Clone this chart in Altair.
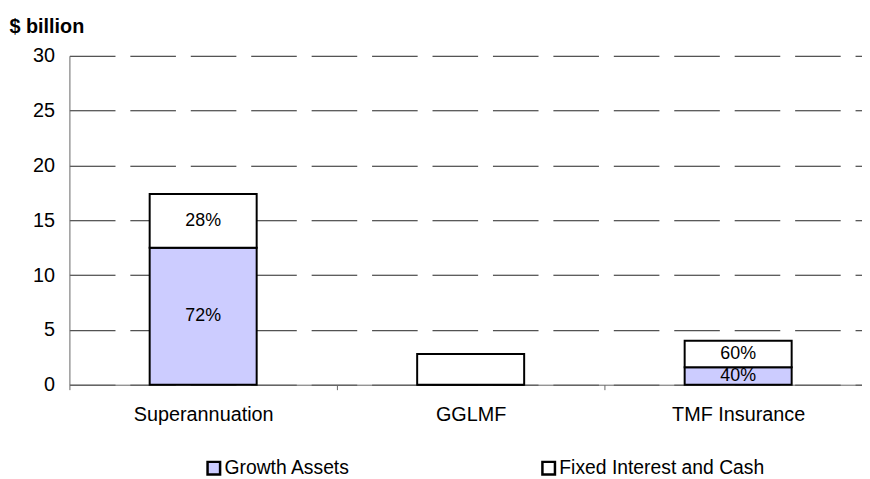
import altair as alt
import pandas as pd

categories = ["Superannuation", "GGLMF", "TMF Insurance"]
series = ["Growth Assets", "Fixed Interest and Cash"]
growth = [12.5, 0.0, 1.6]
fixed = [4.9, 2.8, 2.4]
growth_labels = ["72%", "", "40%"]
fixed_labels = ["28%", "", "60%"]
y_ticks = [0, 5, 10, 15, 20, 25, 30]
colors = ["#CCCCFF", "#FFFFFF"]

rows = []
for i, c in enumerate(categories):
    rows.append({"category": c, "series": series[0], "value": growth[i], "label": growth_labels[i], "ord": 0})
    rows.append({"category": c, "series": series[1], "value": fixed[i], "label": fixed_labels[i], "ord": 1})
df = pd.DataFrame(rows)

FONT = "Liberation Sans"

xscale = alt.Scale(range=[0, 810], paddingInner=0, paddingOuter=0)
xaxis = alt.Axis(title=None, labelAngle=0, tickBand="extent", tickSize=5, tickColor="#666666",
                 domainColor="#666666", labelFontSize=20, labelPadding=15, labelColor="black", grid=False)
yscale = alt.Scale(domain=[0, 30])
yaxis = alt.Axis(values=y_ticks, title="$ billion", titleAngle=0, titleAlign="left",
                 titleBaseline="middle", titleX=-61, titleY=-30, titleFontSize=20,
                 titleFontWeight="bold", titleColor="black", labelFontSize=20, labelPadding=15,
                 labelColor="black", ticks=False, grid=True, gridDash=[46, 15],
                 gridColor="#222222", gridWidth=1, domainColor="#666666")

base = alt.Chart(df)

bars = base.mark_bar(stroke="black", strokeWidth=2, width=alt.RelativeBandSize(0.4)).encode(
    x=alt.X("category:N", sort=categories, scale=xscale, axis=xaxis),
    y=alt.Y("value:Q", stack="zero", scale=yscale, axis=yaxis),
    fill=alt.Fill("series:N", scale=alt.Scale(domain=series, range=colors),
                  legend=alt.Legend(title=None, orient="none", legendX=136, legendY=406,
                                    direction="horizontal", symbolType="square", symbolSize=160,
                                    symbolStrokeColor="black", symbolStrokeWidth=2.5, symbolOpacity=1,
                                    labelFontSize=19.5, labelOffset=1, columnPadding=188,
                                    labelLimit=400, labelColor="black")),
    order=alt.Order("ord:Q"),
)

labels = base.transform_stack(
    stack="value", groupby=["category"], as_=["y0", "y1"], sort=[alt.SortField("ord")]
).transform_calculate(
    mid="(datum.y0 + datum.y1) / 2"
).transform_filter(
    "datum.label != ''"
).mark_text(fontSize=18, color="black").encode(
    x=alt.X("category:N", sort=categories, scale=xscale, axis=xaxis),
    y=alt.Y("mid:Q", scale=yscale, axis=yaxis),
    text="label:N",
)

chart = alt.layer(bars, labels).properties(
    width=800, height=332,
    autosize=alt.AutoSizeParams(type="none"),
    padding={"left": 62, "top": 46, "right": 0, "bottom": 100},
).configure(font=FONT).configure_view(stroke=None)

chart.save("out.html", embed_options={"renderer": "svg", "actions": False})
